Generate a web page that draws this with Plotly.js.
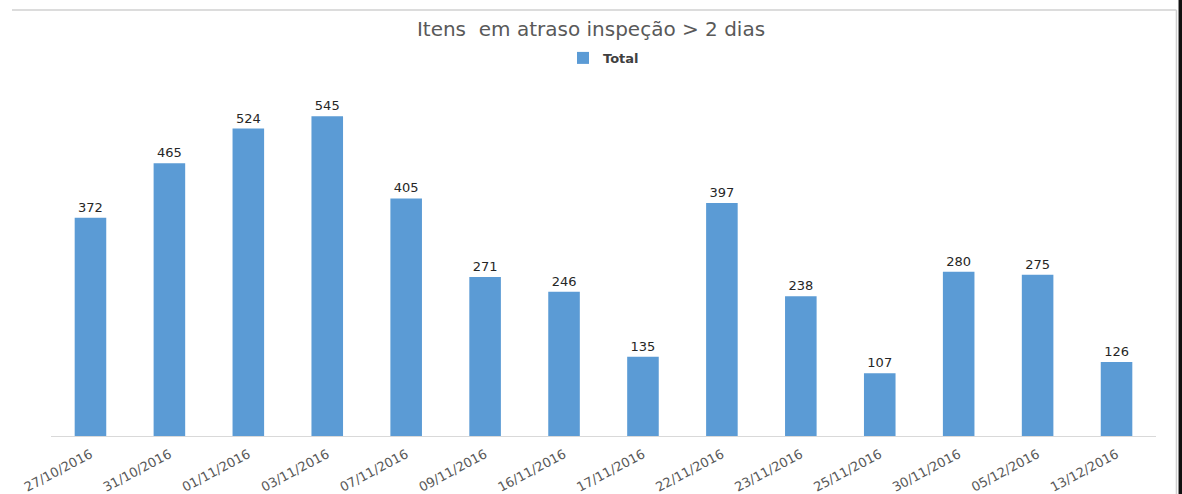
<!DOCTYPE html>
<html>
<head>
<meta charset="utf-8">
<script src="https://cdn.plot.ly/plotly-3.0.1.min.js"></script>
<style>
  html, body { margin: 0; padding: 0; background: #ffffff; }
  #chart { width: 1182px; height: 494px; }
</style>
</head>
<body>
<div id="chart"></div>
<script>
// Inspection dates and number of items overdue by more than 2 days
const dates = ["27/10/2016", "31/10/2016", "01/11/2016", "03/11/2016", "07/11/2016",
               "09/11/2016", "16/11/2016", "17/11/2016", "22/11/2016", "23/11/2016",
               "25/11/2016", "30/11/2016", "05/12/2016", "13/12/2016"];
const totals = [372, 465, 524, 545, 405, 271, 246, 135, 397, 238, 107, 280, 275, 126];

const seriesName = "Total";
const chartTitle = "Itens\u00A0 em atraso inspeção > 2 dias";

const FONT = "DejaVu Sans, sans-serif";

const trace = {
  type: "bar",
  name: seriesName,
  x: dates,
  y: totals,
  text: totals.map(String),
  textposition: "outside",
  textfont: { family: FONT, size: 13, color: "#262626" },
  cliponaxis: false,
  marker: { color: "#5B9BD5" },
  hoverinfo: "x+y"
};

const layout = {
  width: 1182,
  height: 494,
  margin: { l: 51, r: 26, t: 84, b: 58 },
  paper_bgcolor: "#ffffff",
  plot_bgcolor: "#ffffff",
  bargap: 0.6,
  showlegend: true,
  title: {
    text: chartTitle,
    font: { family: FONT, size: 20, color: "#595959" },
    x: 0.5, xref: "container", xanchor: "center",
    y: 1 - 29 / 494, yref: "container", yanchor: "middle"
  },
  legend: {
    orientation: "h",
    x: 0.5, xanchor: "center",
    y: 1.074, yanchor: "middle",
    font: { family: FONT, size: 13, color: "#404040", weight: "bold" },
    itemwidth: 30
  },
  xaxis: {
    type: "category",
    tickangle: -28,
    tickfont: { family: FONT, size: 13, color: "#595959" },
    showline: true,
    linecolor: "#D9D9D9",
    linewidth: 1,
    ticks: "outside",
    ticklen: 5,
    tickcolor: "rgba(0,0,0,0)",
    showgrid: false,
    zeroline: false
  },
  yaxis: {
    range: [0, 600],
    visible: false,
    showgrid: false,
    zeroline: false
  },
  shapes: [
    // chart frame: top and right edges
    { type: "line", xref: "paper", yref: "paper", x0: -0.0353, x1: 1.0185, y0: 1.2102, y1: 1.2102,
      line: { color: "#D0D0D0", width: 1.5 } },
    { type: "line", xref: "paper", yref: "paper", x0: 1.0185, x1: 1.0185, y0: 1.2102, y1: -0.17,
      line: { color: "#D0D0D0", width: 1.5 } },
    // window edge on the right
    { type: "line", xref: "paper", yref: "paper", x0: 1.0222, x1: 1.0222, y0: 1.24, y1: -0.17,
      line: { color: "#111111", width: 4 } }
  ]
};

Plotly.newPlot("chart", [trace], layout, { displayModeBar: false, staticPlot: true });
</script>
</body>
</html>
